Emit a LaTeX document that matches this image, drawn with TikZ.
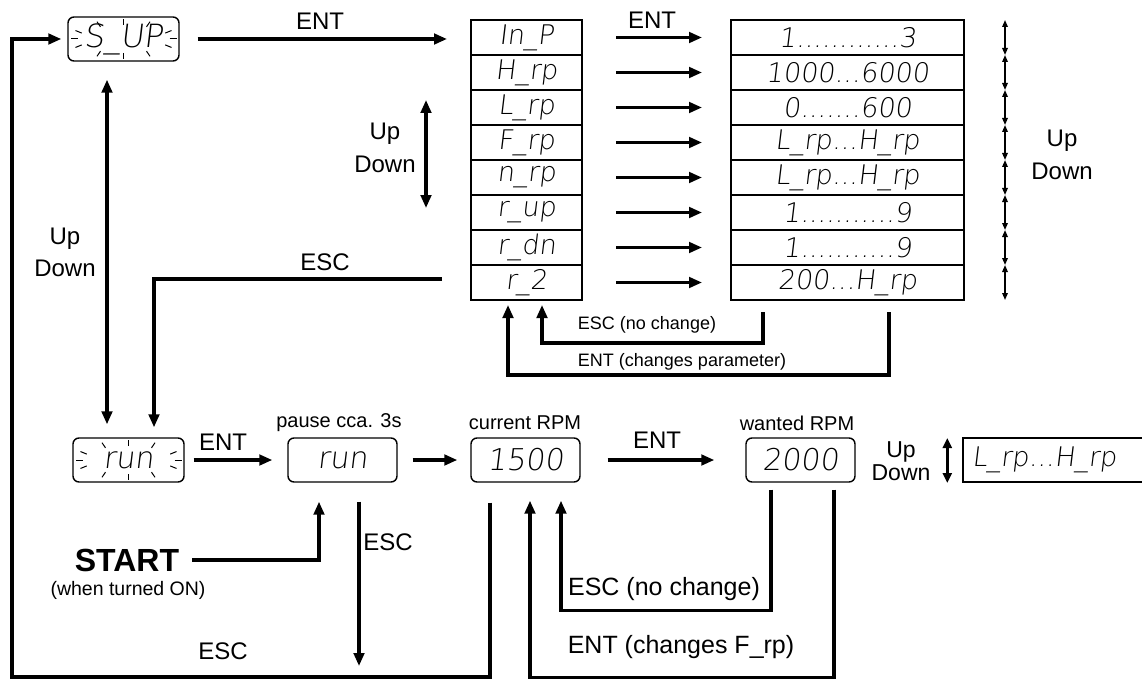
\documentclass[tikz,border=0pt]{standalone}
\usepackage{fontspec}
\setmainfont{Liberation Sans}
\IfFontExistsTF{DejaVu Sans ExtraLight}
    {\newfontfamily\segfont{DejaVu Sans ExtraLight}[FakeSlant=0.12]}
    {\newfontfamily\segfont{DejaVu Sans}[FakeSlant=0.12]}
\usetikzlibrary{
    arrows.meta,
    calc,
    positioning
    }

\begin{document}
\begin{tikzpicture}[x=1pt, y=-1pt,
    conn/.style={line width=3.1pt, -{Triangle[length=13pt,width=10.5pt]}},
    dbl/.style={line width=3.1pt, {Triangle[length=13pt,width=10.5pt]}-{Triangle[length=13pt,width=10.5pt]}},
    dblsmall/.style={line width=2.6pt, {Triangle[length=10pt,width=9pt]}-{Triangle[length=10pt,width=9pt]}},
    updn/.style={line width=1.6pt, {Triangle[length=7pt,width=5.5pt]}-{Triangle[length=7pt,width=5.5pt]}},
    disp/.style={draw, line width=1.4pt, rounded corners=6pt, minimum width=109pt, minimum height=44pt, inner sep=0pt, font=\segfont\fontsize{30}{30}\selectfont},
    cell/.style={draw, line width=1.4pt, minimum height=35pt, inner sep=0pt, outer sep=0pt, font=\segfont\fontsize{27}{27}\selectfont},
    parcell/.style={cell, minimum width=111pt},
    valcell/.style={cell, minimum width=233pt},
    lbl/.style={inner sep=0pt, align=center, font=\fontsize{24}{26}\selectfont},
    blink/.style={line width=1pt}
    ]
    \useasboundingbox (0,0) rectangle (1142,679);

    %Setup menu
    \node[disp, minimum width=111pt, font=\segfont\fontsize{32}{32}\selectfont] (sup) at (123.5,39) {S\_UP};
    \node[disp, minimum width=111pt] (run) at (128.5,460) {run};
    \foreach \a in {0,25,60,90,120,155,180,205,240,270,300,335}{
        \draw[blink] ($(sup)+({46*cos(\a)},{14*sin(\a)})$) -- ($(sup)+({53*cos(\a)},{20*sin(\a)})$);
        \draw[blink] ($(run)+({46*cos(\a)},{14*sin(\a)})$) -- ($(run)+({53*cos(\a)},{20*sin(\a)})$);
    }
    \node[lbl] (entsup) at (320,21) {ENT};
    \node[lbl, font=\fontsize{24}{32}\selectfont] (udleft) at (65,252) {Up\\Down};
    \coordinate (udl) at ($(sup.south)+(-16.5,0)$);
    \draw[dbl, shorten <=18pt, shorten >=13pt] (udl) -- (udl |- run.north);

    %Parameter table
    \node[parcell] (par1) at (526.5,37.5) {In\_P};
    \node[parcell] (par2) at (526.5,72.5) {H\_rp};
    \node[parcell] (par3) at (526.5,107.5) {L\_rp};
    \node[parcell] (par4) at (526.5,142.5) {F\_rp};
    \node[parcell] (par5) at (526.5,177.5) {n\_rp};
    \node[parcell] (par6) at (526.5,212.5) {r\_up};
    \node[parcell] (par7) at (526.5,247.5) {r\_dn};
    \node[parcell] (par8) at (526.5,282.5) {r\_2};
    \node[valcell] (val1) at (847.5,37.5) {1............3};
    \node[valcell] (val2) at (847.5,72.5) {1000...6000};
    \node[valcell] (val3) at (847.5,107.5) {0.......600};
    \node[valcell] (val4) at (847.5,142.5) {L\_rp...H\_rp};
    \node[valcell] (val5) at (847.5,177.5) {L\_rp...H\_rp};
    \node[valcell] (val6) at (847.5,212.5) {1...........9};
    \node[valcell] (val7) at (847.5,247.5) {1...........9};
    \node[valcell] (val8) at (847.5,282.5) {200...H\_rp};
    \foreach \i in {1,2,3,4,5,6,7,8}{
        \draw[conn, shorten <=34pt, shorten >=29pt] (par\i) -- (val\i);
        \draw[updn] ($(val\i.north east)+(41,0)$) -- ($(val\i.south east)+(41,0)$);
    }
    \draw[conn, shorten <=18pt, shorten >=24pt] (sup.east) -- (sup.east -| par1.west);
    \node[lbl] (entpar) at (652,20) {ENT};
    \node[lbl, font=\fontsize{24}{33}\selectfont] (udright) at (1062,155) {Up\\Down};
    \node[lbl, font=\fontsize{24}{33}\selectfont] (udmid) at (385,148) {Up\\Down};
    \coordinate (udtop) at (426,100);
    \coordinate (udbot) at (426,208);
    \draw[dbl] (udtop) -- (udbot);
    \node[lbl] (escpar) at (325,262) {ESC};
    \draw[conn, shorten >=10pt] ($(par8.west)+(-29,-3.5)$) -| ($(run.north)+(25.5,0)$);

    %Returns to table
    \draw[conn, shorten >=5pt] ($(val8.south)+(-84.5,12)$) |- ($(par8.south)+(15.5,43)$) -- ($(par8.south)+(15.5,0)$);
    \draw[conn, shorten >=5pt] ($(val8.south)+(41.5,12)$) |- ($(par8.south)+(-18.5,75)$) -- ($(par8.south)+(-18.5,0)$);
    \node[lbl, font=\fontsize{18}{20}\selectfont] (escnc) at (647,325) {ESC (no change)};
    \node[lbl, font=\fontsize{18}{20}\selectfont] (entcp) at (682,362) {ENT (changes parameter)};

    %Run mode
    \node[disp] (pause) at (342.5,460) {run};
    \node[disp] (cur) at (525.5,460) {1500};
    \node[disp] (want) at (800.5,460) {2000};
    \node[draw, line width=1.4pt, minimum width=183pt, minimum height=44pt, inner sep=0pt, text width=165pt, align=left, font=\segfont\fontsize{27}{27}\selectfont] (range) at (1054.5,460) {L\_rp...H\_rp};
    \node[lbl, font=\fontsize{20}{22}\selectfont] (pausetxt) at (339,423) {pause cca. 3s};
    \node[lbl, font=\fontsize{20}{22}\selectfont] (curtxt) at (525,423) {current RPM};
    \node[lbl, font=\fontsize{20}{22}\selectfont] (wanttxt) at (797,423) {wanted RPM};
    \draw[conn, shorten <=9pt, shorten >=15pt] (run) -- (pause);
    \node[lbl] (entrun) at (223,442) {ENT};
    \draw[conn, shorten <=15pt, shorten >=13pt] (pause) -- (cur);
    \draw[conn, shorten <=27pt, shorten >=31pt] (cur) -- (want);
    \node[lbl] (entcur) at (657,440) {ENT};
    \node[lbl, font=\fontsize{23}{23}\selectfont] (udwant) at (901,461) {Up\\Down};
    \draw[dblsmall] ($(range.west)+(-15,-22)$) -- ($(range.west)+(-15,23)$);

    %START
    \node[inner sep=0pt, font=\bfseries\fontsize{32}{32}\selectfont] (start) at (127,560) {START};
    \node[lbl, font=\fontsize{19.5}{21}\selectfont] (startnote) at (128,590) {(when turned ON)};
    \draw[conn, shorten <=13pt, shorten >=19pt] (start.east) -| ($(pause.south)+(-23.5,0)$);
    \coordinate (escend) at (359,666);
    \draw[conn, shorten <=19pt] ($(pause.south)+(16.5,0)$) -- (escend);
    \node[lbl] (escpause) at (388,542) {ESC};

    %Back to setup
    \coordinate (loopcorner) at (12,677);
    \draw[conn, shorten >=6pt] ($(cur.south)+(-35.5,20)$) |- (loopcorner) |- (sup.west);
    \node[lbl] (escloop) at (223,651) {ESC};

    %Returns to current RPM
    \draw[conn, shorten >=18pt] ($(want.south)+(-29.5,7)$) |- ($(cur.south)+(35.5,128)$) -- ($(cur.south)+(35.5,0)$);
    \draw[conn, shorten >=18pt] ($(want.south)+(33.5,7)$) |- ($(cur.south)+(4.5,195)$) -- ($(cur.south)+(4.5,0)$);
    \node[lbl, font=\fontsize{25}{27}\selectfont] (escwant) at (664,589) {ESC (no change)};
    \node[lbl, font=\fontsize{25}{27}\selectfont] (entwant) at (681,647) {ENT (changes F\_rp)};

\end{tikzpicture}
\end{document}
